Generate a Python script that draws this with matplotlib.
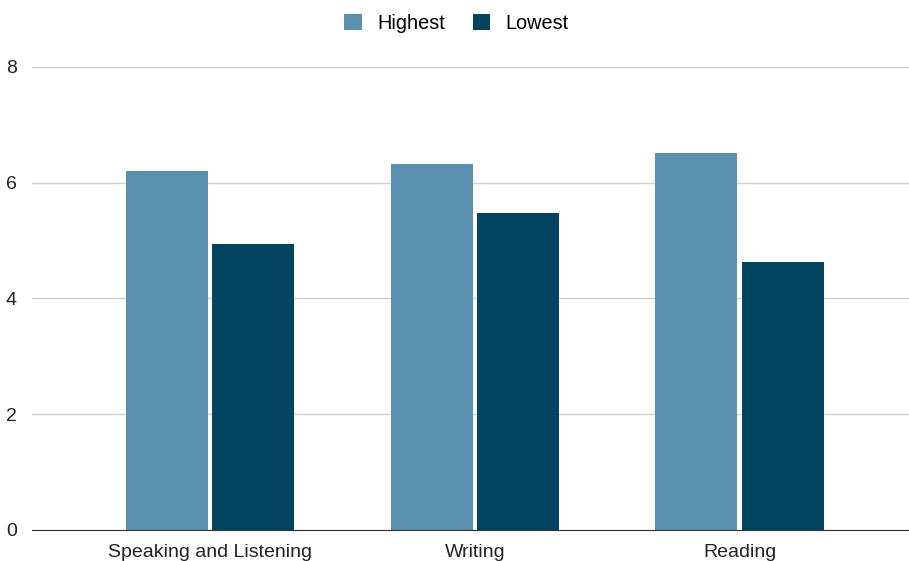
import matplotlib
matplotlib.use('Agg')
import matplotlib.pyplot as plt
import numpy as np

plt.rcParams['font.family'] = ['Liberation Sans', 'DejaVu Sans']

categories = ['Speaking and Listening', 'Writing', 'Reading']
highest = [6.2, 6.33, 6.51]
lowest = [4.94, 5.48, 4.63]
series_names = ['Highest', 'Lowest']
colors = ['#5990ae', '#02445f']

fig = plt.figure(figsize=(9.09, 5.61), dpi=100)
ax = fig.add_axes([0.0352, 0.0553, 0.9648, 0.8253])

x = np.arange(len(categories))
w = 0.31
ax.bar(x - 0.163, highest, w, color=colors[0], label=series_names[0], zorder=3)
ax.bar(x + 0.163, lowest, w, color=colors[1], label=series_names[1], zorder=3)

ax.set_xlim(-0.672, 2.64)
ax.set_ylim(0, 8)
ax.set_yticks([0, 2, 4, 6, 8])
ax.set_xticks(x)
ax.set_xticklabels(categories)
ax.tick_params(axis='both', length=0, labelsize=14, colors='#222222')
ax.tick_params(axis='y', pad=11)
ax.tick_params(axis='x', pad=10)
ax.grid(axis='y', color='#d0d0d0', linewidth=1, zorder=0)
for s in ['top', 'right', 'left']:
    ax.spines[s].set_visible(False)
ax.spines['bottom'].set_color('#333333')
ax.spines['bottom'].set_zorder(4)

fig.legend(loc='center', bbox_to_anchor=(0.502, 0.958), ncol=2, frameon=False,
           fontsize=14.3, handlelength=0.9, handleheight=0.9, columnspacing=1.4,
           handletextpad=0.75)

fig.savefig('out.png', dpi=100)
